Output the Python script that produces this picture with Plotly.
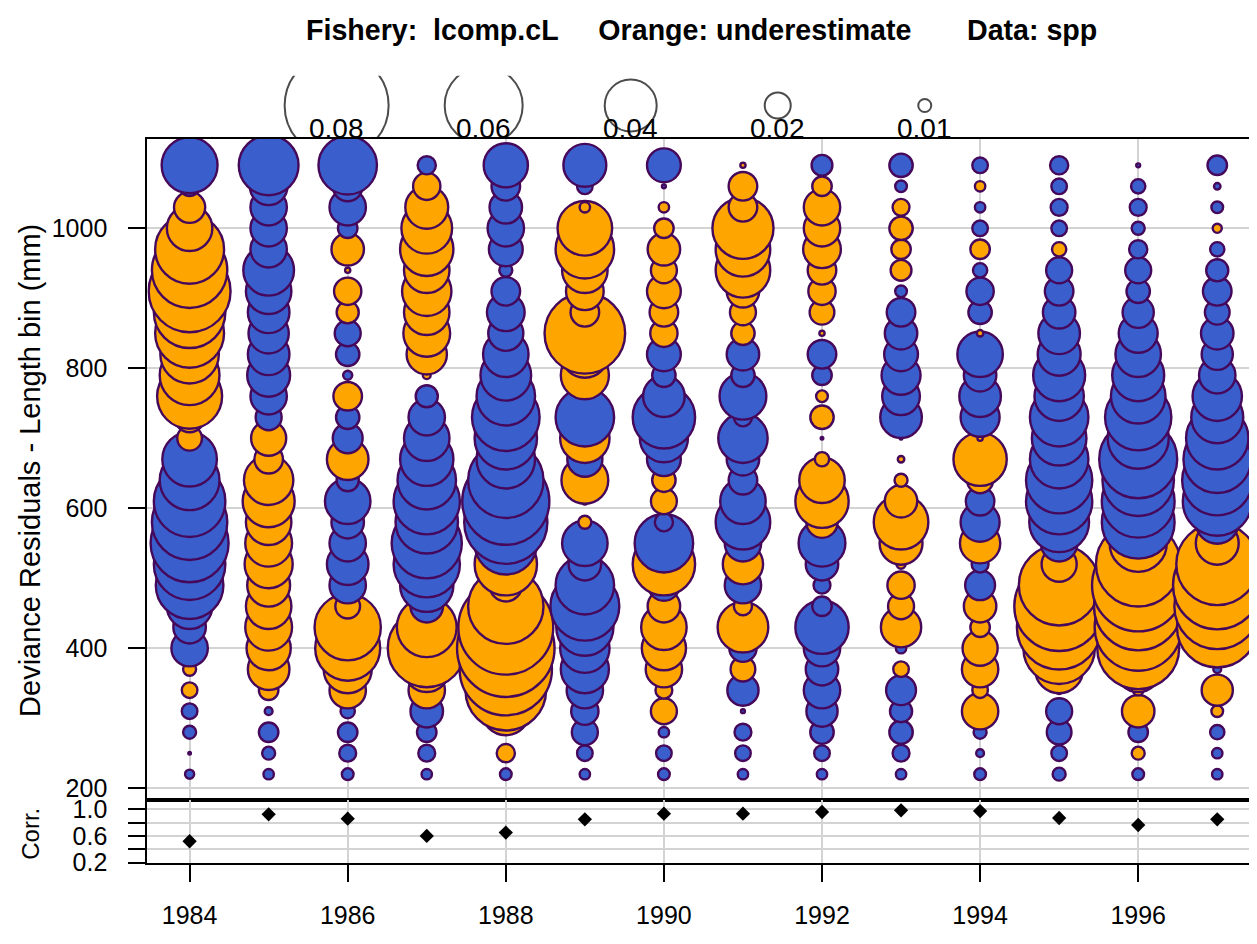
import plotly.graph_objects as go

# length bins (mm) and years
years = list(range(1984, 1998))
bins = list(range(220, 1091, 30))

# deviance residuals by year, bins ascending 220..1090
# positive = orange (underestimate), negative = blue
res_1984 = [-0.007, -0.002, -0.010, -0.012, 0.012, 0.010, -0.028, -0.025, -0.035, -0.052,
            -0.055, -0.060, -0.058, -0.055, -0.046, -0.042, 0.019, 0.023, 0.050, 0.046,
            0.045, 0.053, 0.055, 0.063, 0.058, 0.053, 0.035, 0.024, -0.015, -0.043]
res_1985 = [-0.008, -0.010, -0.015, -0.006, 0.015, 0.032, 0.034, 0.036, 0.035, 0.033,
            0.037, 0.036, 0.035, 0.040, 0.038, 0.022, 0.027, -0.020, -0.028, -0.033,
            -0.032, -0.031, -0.032, -0.035, -0.039, -0.028, -0.028, -0.028, -0.029, -0.046]
res_1986 = [-0.009, -0.013, -0.015, -0.011, 0.028, 0.037, 0.050, 0.051, 0.019, -0.028,
            -0.032, -0.028, -0.025, -0.035, -0.017, 0.032, -0.023, -0.018, 0.022, -0.007,
            -0.018, -0.020, 0.017, 0.021, 0.004, 0.025, -0.015, -0.028, -0.023, -0.045]
res_1987 = [-0.008, -0.013, -0.015, -0.025, 0.028, 0.035, 0.060, 0.046, -0.025, -0.041,
            -0.051, -0.054, -0.048, -0.051, -0.045, -0.041, -0.035, -0.028, -0.017, 0.006,
            0.031, 0.036, 0.035, 0.038, 0.035, 0.041, 0.039, 0.033, 0.021, -0.014]
res_1988 = [-0.009, 0.014, 0.004, 0.037, 0.062, 0.071, 0.075, 0.073, 0.058, 0.025,
            0.048, -0.048, -0.064, -0.067, -0.058, -0.045, -0.048, -0.052, -0.045, -0.039,
            -0.035, -0.027, -0.029, -0.022, -0.010, -0.026, -0.028, -0.025, -0.022, -0.034]
res_1989 = [-0.008, -0.012, -0.020, -0.021, -0.028, -0.037, -0.038, -0.044, -0.053, -0.045,
            -0.025, -0.035, 0.010, 0.005, 0.036, -0.027, 0.038, -0.045, -0.004, 0.037,
            0.036, 0.062, 0.022, 0.029, 0.035, 0.045, 0.042, 0.008, -0.012, -0.033]
res_1990 = [-0.009, -0.012, -0.008, 0.020, 0.013, 0.028, 0.034, 0.035, 0.025, -0.024,
            0.048, -0.045, -0.014, 0.020, 0.018, -0.026, -0.037, -0.048, -0.032, -0.018,
            -0.026, 0.021, 0.022, 0.026, 0.020, 0.025, 0.015, 0.008, -0.003, -0.026]
res_1991 = [-0.008, -0.012, -0.013, -0.003, -0.024, 0.019, -0.021, 0.039, 0.014, -0.028,
            0.031, -0.028, -0.042, -0.035, -0.022, -0.025, -0.038, -0.014, -0.036, -0.018,
            -0.025, 0.018, 0.020, 0.025, 0.042, 0.042, 0.047, 0.022, 0.022, 0.004]
res_1992 = [-0.008, -0.012, -0.018, -0.024, -0.028, -0.025, -0.028, -0.041, -0.015, -0.013,
            -0.025, -0.036, 0.024, 0.041, 0.035, 0.011, -0.002, 0.018, 0.009, -0.015,
            -0.022, 0.004, 0.019, 0.021, 0.022, 0.029, 0.028, 0.028, 0.015, -0.016]
res_1993 = [-0.008, -0.013, -0.018, -0.017, -0.023, 0.012, -0.008, 0.031, 0.020, 0.021,
            0.007, 0.033, 0.042, 0.025, 0.010, 0.005, -0.002, -0.032, -0.029, -0.030,
            -0.026, -0.025, -0.022, -0.009, 0.016, 0.015, 0.018, 0.013, -0.009, -0.018]
res_1994 = [-0.009, -0.006, -0.010, 0.028, 0.012, 0.028, 0.027, 0.015, 0.025, -0.023,
            -0.013, 0.031, -0.030, -0.022, 0.020, 0.041, 0.004, -0.030, -0.032, -0.025,
            -0.035, 0.005, -0.018, -0.021, -0.011, 0.015, -0.012, -0.008, 0.008, -0.012]
res_1995 = [-0.010, -0.012, -0.019, -0.020, 0.006, 0.037, 0.055, 0.065, 0.069, 0.062,
            0.027, -0.028, -0.046, -0.051, -0.051, -0.045, -0.042, -0.045, -0.038, -0.040,
            -0.033, -0.032, -0.025, -0.022, -0.020, 0.011, -0.012, -0.013, -0.012, -0.014]
res_1996 = [-0.009, 0.010, -0.015, 0.025, 0.008, 0.035, 0.063, 0.067, 0.068, 0.071,
            0.065, 0.044, -0.056, -0.056, -0.055, -0.060, -0.047, -0.051, -0.042, -0.040,
            -0.035, -0.030, -0.024, -0.018, -0.020, -0.014, -0.010, -0.013, -0.011, -0.003]
res_1997 = [-0.008, -0.008, -0.011, 0.009, 0.024, -0.006, 0.023, 0.062, 0.066, 0.068,
            0.063, 0.033, -0.033, -0.053, -0.054, -0.052, -0.048, -0.040, -0.038, -0.028,
            -0.024, -0.025, -0.019, -0.022, -0.017, -0.011, 0.007, -0.009, -0.005, -0.015]

residuals = [res_1984, res_1985, res_1986, res_1987, res_1988, res_1989, res_1990,
             res_1991, res_1992, res_1993, res_1994, res_1995, res_1996, res_1997]

# correlation by year
corr = [0.52, 0.925, 0.86, 0.60, 0.65, 0.85, 0.935, 0.935, 0.96, 0.985, 0.975, 0.87, 0.765, 0.85]

legend_vals = [0.08, 0.06, 0.04, 0.02, 0.01]
legend_lab = ["0.08", "0.06", "0.04", "0.02", "0.01"]

# page has an 8px body margin; figure sized so the page fits the window exactly
# (nothing may stick out below, or the page grows and the shot gets squeezed)
OFF = 8
W, H = 1257 - 2 * OFF, 944 - 2 * OFF
PX = 1300  # marker diameter (px) per unit residual
FONT = "Liberation Sans, Arial, sans-serif"
BLUE = "#3A5FCD"
ORANGE = "#FFA500"
EDGE = "#45085a"
GRID = "#D3D3D3"


def fx(p):
    return (p - OFF) / W


def fy(p):
    return 1 - (p - OFF) / H


xs, ys, sz, cols = [], [], [], []
for yr, res in zip(years, residuals):
    for b, r in zip(bins, res):
        xs.append(yr)
        ys.append(b)
        sz.append(abs(r) * PX)
        cols.append(ORANGE if r > 0 else BLUE)

fig = go.Figure()
fig.add_trace(go.Scatter(x=xs, y=ys, mode="markers", xaxis="x", yaxis="y",
                         marker=dict(size=sz, sizemode="diameter", color=cols,
                                     line=dict(color=EDGE, width=2.4), opacity=1),
                         hoverinfo="skip", showlegend=False))

fig.add_trace(go.Scatter(x=years, y=corr, mode="markers", xaxis="x2", yaxis="y2",
                         marker=dict(symbol="diamond", size=11, color="black"),
                         showlegend=False))

# bubble size key above the panel
x_left, x_right = 147.3, 1249
yr_per_px = 1 / 79.05
xr = [1984 - (189.6 - x_left) * yr_per_px, 1984 + (x_right - 189.6) * yr_per_px]
leg_x = [1985.86 + 1.86 * i for i in range(len(legend_vals))]
fig.add_trace(go.Scatter(x=leg_x, y=[0.53] * len(legend_vals), mode="markers",
                         xaxis="x3", yaxis="y3",
                         marker=dict(size=[v * PX for v in legend_vals], sizemode="diameter",
                                     color="rgba(0,0,0,0)", line=dict(color="black", width=2)),
                         showlegend=False))

x0 = fx(x_left)
main_dom = [fy(810.7), fy(136.5)]
corr_dom = [fy(875), fy(810.7)]
leg_dom = [fy(136.5), fy(72)]
even = list(range(1984, 1998, 2))

axis_common = dict(showline=True, linecolor="black", linewidth=2, zeroline=False,
                   gridcolor=GRID, gridwidth=1.5)

fig.update_layout(
    width=W, height=H,
    margin=dict(l=0, r=0, t=0, b=0),
    paper_bgcolor="white", plot_bgcolor="white",
    font=dict(family=FONT, color="black", size=25),
    showlegend=False,
    xaxis=dict(domain=[x0, 1], range=xr, anchor="y", tickvals=even, showticklabels=False,
               ticks="", mirror=True, **axis_common),
    yaxis=dict(domain=main_dom, range=[182.9, 1127.6], anchor="x",
               tickvals=[200, 400, 600, 800, 1000], ticks="outside", ticklen=17, tickwidth=2,
               tickcolor="black", ticklabelstandoff=16, tickfont=dict(size=25), **axis_common),
    xaxis2=dict(domain=[x0, 1], range=xr, anchor="y2", tickvals=even, ticks="outside",
                ticklen=17, tickwidth=2, tickcolor="black", mirror=True,
                ticklabelstandoff=12, tickfont=dict(size=25), **axis_common),
    yaxis2=dict(domain=corr_dom, range=[0.19, 1.139], anchor="x2",
                tickvals=[0.2, 0.4, 0.6, 0.8, 1.0], ticktext=["0.2", "", "0.6", "", "1.0"],
                ticks="outside", ticklen=17, tickwidth=2, tickcolor="black",
                ticklabelstandoff=16, tickfont=dict(size=25), **axis_common),
    xaxis3=dict(domain=[x0, 1], range=xr, anchor="y3", visible=False),
    yaxis3=dict(domain=leg_dom, range=[0, 1], anchor="x3", visible=False),
)

for xv, lab in zip(leg_x, legend_lab):
    fig.add_annotation(x=xv, y=fy(126), xref="x3", yref="paper", text=lab,
                       showarrow=False, xanchor="center", yanchor="middle",
                       font=dict(size=28, family=FONT))

nb = "\u00a0"
title = ("<b>Fishery:" + nb * 2 + "lcomp.cL" + nb * 5 + "Orange: underestimate" + nb * 7 +
         "Data: spp</b>")
fig.add_annotation(x=fx(701.5), y=fy(25), xref="paper", yref="paper", text=title,
                   showarrow=False, xanchor="center", yanchor="middle",
                   font=dict(size=28.6, family=FONT))
fig.add_annotation(x=fx(30), y=fy(475), xref="paper", yref="paper",
                   text="Deviance Residuals - Length bin (mm)", textangle=-90,
                   showarrow=False, xanchor="center", yanchor="middle",
                   font=dict(size=29, family=FONT))
fig.add_annotation(x=fx(31), y=fy(845), xref="paper", yref="paper", text="Corr.",
                   textangle=-90, showarrow=False, xanchor="center", yanchor="middle",
                   font=dict(size=24, family=FONT))

fig.write_html("out.html")
